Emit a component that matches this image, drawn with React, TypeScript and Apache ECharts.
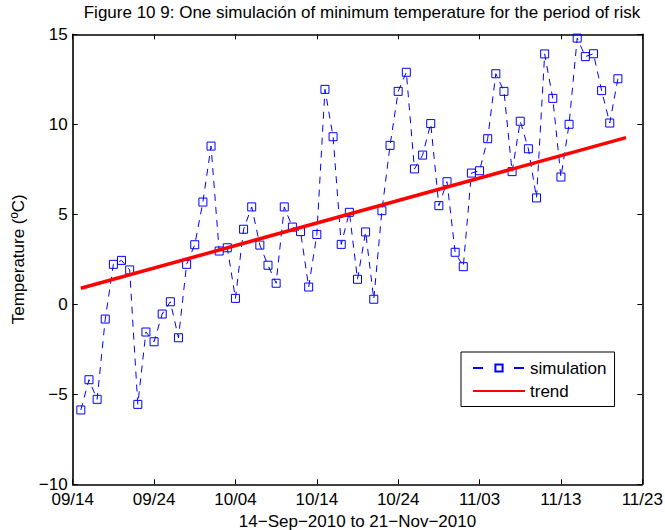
import React, { useEffect, useRef } from "react";
import * as echarts from "echarts";

const titleText = "Figure 10 9: One simulación of minimum temperature for the period of risk";
const xAxisTitle = "14−Sep−2010 to 21−Nov−2010";
const yAxisTitle = "Temperature (ºC)";
const xTickLabels = ["09/14", "09/24", "10/04", "10/14", "10/24", "11/03", "11/13", "11/23"];
const seriesNames = ["simulation", "trend"];

// simulated minimum temperature, one value per day starting the day after 09/14
const simTemps = [
  -5.87, -4.19, -5.28, -0.82, 2.22, 2.44, 1.91, -5.56, -1.54, -2.08,
  -0.54, 0.14, -1.86, 2.22, 3.31, 5.68, 8.79, 2.96, 3.14, 0.33,
  4.17, 5.41, 3.29, 2.17, 1.17, 5.41, 4.29, 4.04, 0.96, 3.88,
  11.94, 9.31, 3.33, 5.11, 1.39, 4.02, 0.28, 5.2, 8.83, 11.83,
  12.89, 7.52, 8.29, 10.04, 5.48, 6.81, 2.89, 2.09, 7.29, 7.42,
  9.2, 12.81, 11.83, 7.37, 10.17, 8.64, 5.91, 13.91, 11.44, 7.07,
  10.0, 14.79, 13.76, 13.92, 11.87, 10.07, 12.53,
];
// linear trend end points (day offset, temperature)
const trendDays = [1, 68];
const trendTemps = [0.89, 9.26];

const FONT = "'Liberation Sans', Arial, Helvetica, sans-serif";

export default function App() {
  const ref = useRef<HTMLDivElement>(null);
  useEffect(() => {
    if (!ref.current) return;
    const chart = echarts.init(ref.current, undefined, { renderer: "svg" });
    const simData = simTemps.map((v, i) => [i + 1, v]);
    const trendData = trendDays.map((d, i) => [d, trendTemps[i]]);
    const axisLine = () => ({ show: true, onZero: false, lineStyle: { color: "#000", width: 1.6 } });
    const axisTick = () => ({ show: true, inside: true, length: 5, lineStyle: { color: "#000", width: 1 } });
    const yFmt = (v: number) => (v < 0 ? "−" + Math.abs(v) : String(v));
    const xFmt = (v: number) => xTickLabels[Math.round(v / 10)] ?? "";
    chart.setOption({
      animation: false,
      backgroundColor: "#fff",
      textStyle: { fontFamily: FONT },
      title: {
        text: titleText,
        left: 362,
        top: 4,
        padding: 0,
        textAlign: "center",
        textStyle: { fontSize: 17, fontWeight: "normal", color: "#000", fontFamily: FONT },
      },
      grid: {
        left: 72.7,
        right: 22.7,
        top: 34.3,
        bottom: 45.7,
        containLabel: false,
        outerBoundsMode: "none",
      },
      xAxis: [
        {
          type: "value",
          min: 0,
          max: 70,
          interval: 10,
          position: "bottom",
          axisLine: axisLine(),
          axisTick: axisTick(),
          splitLine: { show: false },
          axisLabel: {
            formatter: xFmt,
            fontSize: 17,
            lineHeight: 16,
            color: "#000",
            margin: 7.5,
            fontFamily: FONT,
          },
          name: xAxisTitle,
          nameLocation: "middle",
          nameGap: 23.5,
          nameTextStyle: { fontSize: 17, color: "#000", fontFamily: FONT },
        },
        {
          type: "value",
          min: 0,
          max: 70,
          interval: 10,
          position: "top",
          axisLine: axisLine(),
          axisTick: axisTick(),
          splitLine: { show: false },
          axisLabel: { show: false },
        },
      ],
      yAxis: [
        {
          type: "value",
          min: -10,
          max: 15,
          interval: 5,
          position: "left",
          axisLine: axisLine(),
          axisTick: axisTick(),
          splitLine: { show: false },
          axisLabel: {
            formatter: yFmt,
            fontSize: 17,
            lineHeight: 14,
            color: "#000",
            margin: 5,
            fontFamily: FONT,
          },
          name: yAxisTitle,
          nameLocation: "middle",
          nameGap: 46,
          nameTextStyle: { fontSize: 17, color: "#000", fontFamily: FONT },
        },
        {
          type: "value",
          min: -10,
          max: 15,
          interval: 5,
          position: "right",
          axisLine: axisLine(),
          axisTick: axisTick(),
          splitLine: { show: false },
          axisLabel: { show: false },
        },
      ],
      legend: {
        data: [
          { name: seriesNames[0], lineStyle: { type: [10, 31] } },
          { name: seriesNames[1], itemStyle: { opacity: 0 } },
        ],
        orient: "vertical",
        left: 461,
        top: 352,
        padding: [7.5, 8, 7, 11],
        itemWidth: 52,
        itemHeight: 9,
        itemGap: 6,
        borderColor: "#000",
        borderWidth: 1,
        borderRadius: 0,
        backgroundColor: "#fff",
        textStyle: { fontSize: 17, color: "#000", fontFamily: FONT },
      },
      series: [
        {
          name: seriesNames[0],
          type: "line",
          data: simData,
          symbol: "rect",
          symbolSize: 8,
          showAllSymbol: true,
          itemStyle: { color: "rgba(0,0,0,0)", borderColor: "#0000ff", borderWidth: 1 },
          lineStyle: { color: "#0000ff", width: 1, type: [7, 6] },
          emphasis: { disabled: true },
          z: 2,
        },
        {
          name: seriesNames[1],
          type: "line",
          data: trendData,
          symbol: "none",
          itemStyle: { color: "#ff0000" },
          lineStyle: { color: "#ff0000", width: 3.5 },
          emphasis: { disabled: true },
          z: 3,
        },
      ],
    });
    return () => chart.dispose();
  }, []);
  return (
    <div
      ref={ref}
      style={{ position: "fixed", left: 0, top: 0, width: 665, height: 530 }}
    />
  );
}
